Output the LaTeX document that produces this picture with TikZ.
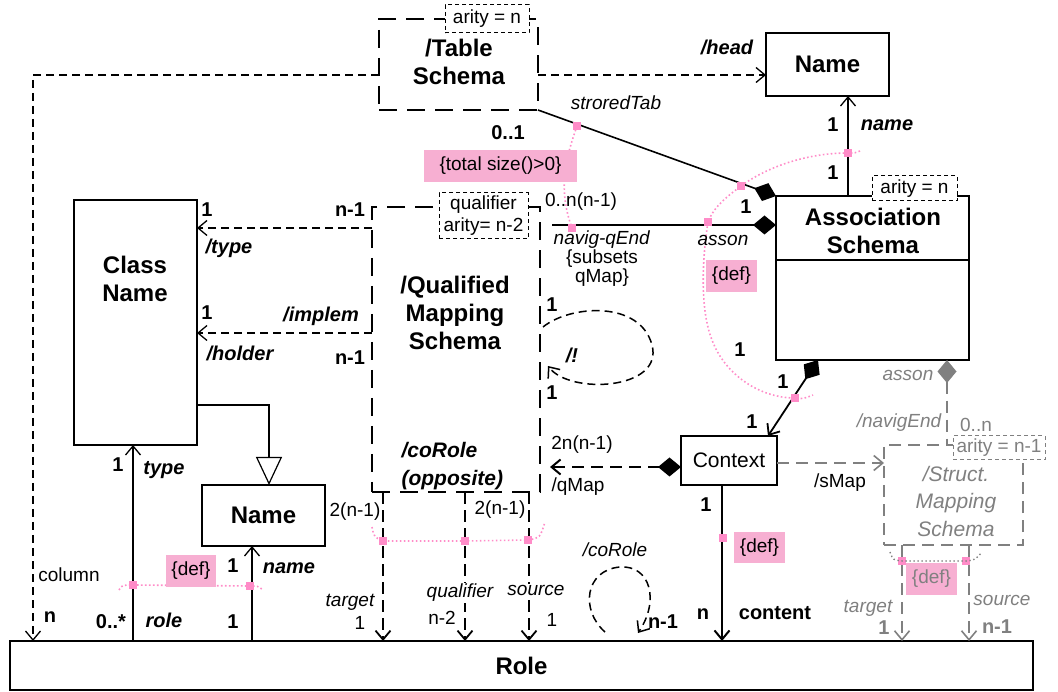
\documentclass[tikz,border=0pt]{standalone}
\usepackage{fontspec}
\setmainfont{Liberation Sans}
\usetikzlibrary{arrows.meta,calc}
\definecolor{pk}{RGB}{255,140,200}
\definecolor{pkbox}{RGB}{247,175,210}
\definecolor{gr}{RGB}{128,128,128}
\begin{document}
\begin{tikzpicture}[x=1pt,y=-1pt,
  box/.style={draw, line width=2.2pt, inner sep=0pt, outer sep=0pt},
  dbox/.style={draw, line width=2.8pt, dash pattern=on 18pt off 10pt, inner sep=0pt, outer sep=0pt},
  gbox/.style={draw=gr, line width=1.6pt, dash pattern=on 12pt off 7pt, inner sep=0pt, outer sep=0pt},
  abox/.style={draw, fill=white, line width=1pt, dash pattern=on 4pt off 3pt, inner sep=1pt, font=\fontsize{19}{22}\selectfont},
  cname/.style={font=\bfseries\fontsize{24}{28}\selectfont, align=center},
  mb/.style={font=\bfseries\fontsize{20}{22}\selectfont, inner sep=1pt},
  rb/.style={font=\bfseries\itshape\fontsize{20}{22}\selectfont, inner sep=1pt},
  tx/.style={font=\fontsize{19}{19}\selectfont, inner sep=1pt},
  ti/.style={font=\itshape\fontsize{19}{19}\selectfont, inner sep=1pt},
  pbox/.style={fill=pkbox, inner sep=0pt, font=\fontsize{19}{20}\selectfont},
  pm/.style={fill=pk, inner sep=0pt, minimum size=8pt},
  pdot/.style={draw=pk, line width=1.6pt, dash pattern=on 1.6pt off 2.4pt},
  gdot/.style={draw=gr, line width=1.4pt, dash pattern=on 1.4pt off 2.6pt},
  conn/.style={line width=1.3pt},
  dconn/.style={line width=1.3pt, dash pattern=on 8pt off 5pt},
  tconn/.style={line width=1.8pt, dash pattern=on 12pt off 6pt},
  gconn/.style={draw=gr, line width=1.6pt, dash pattern=on 12pt off 7pt},
  oa/.style={-{Straight Barb[length=9pt,width=15pt]}},
  dia/.style={{Diamond[length=23pt,width=19pt]}},
]
\useasboundingbox (0,0) rectangle (1058,692);

% ---------- classes ----------
\node[dbox, minimum width=159pt, minimum height=91pt] (ts) at (458.5,64.5) {};
\node[cname] (tst) at (459,62) {/Table\\Schema};
\node[abox, minimum width=84pt, minimum height=28pt] (tsa) at (487,19) {arity = n};

\node[box, cname, minimum width=123pt, minimum height=63pt] (tname) at (827.5,64.5) {Name};

\node[box, minimum width=193pt, minimum height=164pt] (as) at (872.5,278) {};
\draw[line width=2.2pt] (as.west |- 0,260) -- (as.east |- 0,260);
\node[cname] (ast) at (873,231) {Association\\Schema};
\node[abox, minimum width=85pt, minimum height=25pt] (asa) at (914.5,188.5) {arity = n};

\node[box, minimum width=123pt, minimum height=245pt] (cn) at (135.5,322.5) {};
\node[cname] (cnt) at (135,279) {Class\\Name};

\node[dbox, minimum width=168pt, minimum height=285pt] (qms) at (456,349.5) {};
\node[cname] (qmst) at (455,312.5) {/Qualified\\Mapping\\Schema};
\node[abox, align=center, minimum width=89pt, minimum height=46pt, font=\fontsize{19}{22}\selectfont] (qa) at (483.5,216) {qualifier\\arity= n-2};

\node[box, cname, minimum width=123pt, minimum height=61pt] (lnm) at (263.5,515.5) {Name};
\node[box, minimum width=96pt, minimum height=49pt, font=\fontsize{21}{24}\selectfont] (ctx) at (729,460.5) {Context};

\node[gbox, minimum width=139pt, minimum height=100pt] (st) at (953.5,495) {};
\node[font=\itshape\fontsize{21}{27.5}\selectfont, text=gr, align=center] (stt) at (956,501) {/Struct.\\Mapping\\Schema};
\node[abox, draw=gr, text=gr, minimum width=92pt, minimum height=24pt] (sta) at (999,448) {arity = n-1};

\node[box, line width=2pt, cname, minimum width=1023pt, minimum height=49pt] (role) at (521.5,665.5) {Role};

% ---------- connectors ----------
\draw[dconn, oa] (ts.west |- 0,75) -| (role.north -| 33,0);
\draw[dconn, oa] (ts.east |- 0,75) -- (tname.west |- 0,75);
\draw[line width=1.6pt, -{Diamond[length=23pt,width=19pt]}] (ts.south east) -- (as.north west);
\draw[line width=1.6pt, -{Diamond[length=23pt,width=19pt]}] ($(qms.east |- 0,225)+(12,0)$) -- (as.west |- 0,225);
\draw[conn, oa] (as.north -| 848,0) -- (tname.south -| 848,0);
\draw[line width=1.8pt, {Diamond[length=23pt,width=19pt]}-{Straight Barb[length=9pt,width=15pt]}] (as.south -| 818,0) -- (ctx.north -| 768,0);
\draw[line width=2pt, dash pattern=on 12pt off 7pt, {Diamond[length=23pt,width=19pt]}-{Straight Barb[length=9pt,width=15pt]}] (ctx.west |- 0,467) -- ($(qms.east |- 0,467)+(10,0)$);
\draw[gconn, oa] (ctx.east |- 0,463) -- (st.west |- 0,463);
\draw[gconn, {Diamond[length=23pt,width=19pt]}-] (as.south -| 947,0) -- (st.north -| 947,0);
\draw[line width=2pt, oa] (ctx.south -| 722,0) -- (role.north -| 722,0);
\draw[gconn, oa] (st.south -| 902,0) -- (role.north -| 902,0);
\draw[gconn, oa] (st.south -| 969,0) -- (role.north -| 969,0);

\draw[dconn, oa] (qms.west |- 0,228) -- (cn.east |- 0,228);
\draw[dconn, oa] (qms.west |- 0,333) -- (cn.east |- 0,333);
\draw[line width=1.2pt, -{Triangle[open, length=28pt, width=26pt, fill=white]}] (cn.east |- 0,405) -| (lnm.north -| 269,0);
\draw[conn, oa] (role.north -| 133,0) -- (cn.south -| 133,0);
\draw[conn, oa] (role.north -| 252,0) -- (lnm.south -| 252,0);

\draw[tconn, oa] (qms.south -| 383,0) -- (role.north -| 383,0);
\draw[tconn, oa] (qms.south -| 465,0) -- (role.north -| 465,0);
\draw[tconn, oa] (qms.south -| 529,0) -- (role.north -| 529,0);

\draw[dconn, line width=1.5pt, oa] ($(qms.east |- 0,327)+(3,0)$) .. controls (570,305) and (640,300) .. (652,345) .. controls (664,390) and (570,395) .. ($(qms.east |- 0,366)+(8,0)$);
\coordinate (cr1) at ($(role.north -| 605,0)+(0,-9)$);
\coordinate (cr2) at ($(role.north -| 638,0)+(0,-8)$);
\draw[dconn, line width=1.5pt, oa] (cr1) .. controls (580,610) and (585,570) .. (620,567) .. controls (650,565) and (660,600) .. (cr2);

% ---------- pink constraints ----------
\node[pm] (m1) at (848,153) {};
\node[pm] (m2) at (741,186) {};
\node[pm] (m3) at (708,222) {};
\node[pm] (m4) at (795,398) {};
\node[pm] (m5) at (577,126) {};
\node[pm] (m6) at (572,228) {};
\node[pm] (m7) at (133,585) {};
\node[pm] (m8) at (250,586) {};
\node[pm] (m9) at (383,541) {};
\node[pm] (m10) at (465,541) {};
\node[pm] (m11) at (528,540) {};
\node[pm] (m12) at (902,561) {};
\node[pm] (m13) at (966,561) {};
\node[pm] (m14) at (723,538) {};

\draw[pdot] (860,151) .. controls (855,153) .. (m1.center) .. controls (810,153) and (770,165) .. (m2.center) .. controls (728,196) and (714,206) .. (m3.center) .. controls (702,260) and (700,310) .. (712,340) .. controls (725,375) and (760,398) .. (m4.center) .. controls (803,399) .. (813,395);
\draw[pdot] (m5.center) .. controls (565,160) and (558,190) .. (m6.center);
\draw[pdot] (119,590) .. controls (122,585) .. (m7.center) -- (m8.center) .. controls (258,586) .. (263,590);
\draw[pdot] (372,527) .. controls (374,537) .. (m9.center) -- (m10.center) -- (m11.center) .. controls (540,538) .. (545,522);
\draw[gdot] (890,552) .. controls (893,560) .. (m12.center) -- (m13.center) .. controls (975,560) .. (982,552);

\node[pbox, minimum width=153pt, minimum height=32pt] (tsz) at (500.5,166) {\{total size()>0\}};
\node[pbox, minimum width=51pt, minimum height=32pt] (d1) at (731.5,276) {\{def\}};
\node[pbox, minimum width=50pt, minimum height=32pt] (d2) at (191,571) {\{def\}};
\node[pbox, minimum width=51pt, minimum height=31pt] (d3) at (759.5,547.5) {\{def\}};
\node[pbox, minimum width=51pt, minimum height=32pt, text=gr] (d4) at (931.5,579) {\{def\}};

% ---------- labels ----------
\node[rb] (t1) at (727,47) {/head};
\node[ti] (t2) at (616,103) {stroredTab};
\node[mb] (t3) at (508,133) {0..1};
\node[tx] (t4) at (581,202) {0..n(n-1)};
\node[mb] (t5) at (746,207) {1};
\node[mb] (t6) at (833,125) {1};
\node[rb] (t7) at (887,125) {name};
\node[mb] (t8) at (833,173) {1};
\node[tx, align=center] (t9) at (602,259) {\textit{navig-qEnd}\\\{subsets\\qMap\}};
\node[ti] (t10) at (723,240) {asson};

\node[mb] (t11) at (207,210) {1};
\node[rb] (t12) at (229,248) {/type};
\node[mb] (t13) at (350,210) {n-1};
\node[mb] (t14) at (207,313) {1};
\node[rb] (t15) at (321,316) {/implem};
\node[rb] (t16) at (240,353) {/holder};
\node[mb] (t17) at (350,358) {n-1};
\node[mb] (t18) at (118,465) {1};
\node[rb] (t19) at (164,470) {type};
\node[tx] (t20) at (355,512) {2(n-1)};
\node[mb] (t21) at (233,566) {1};
\node[rb] (t22) at (289,568) {name};
\node[tx] (t23) at (69,575) {column};
\node[mb] (t24) at (50,617) {n};
\node[mb] (t25) at (111,622) {0..*};
\node[rb] (t26) at (164,620) {role};
\node[mb] (t27) at (233,622) {1};

\node[font=\bfseries\itshape\fontsize{21}{28}\selectfont, align=left, anchor=west] (t28) at (398,466) {/coRole\\(opposite)};
\node[mb] (t29) at (552,305) {1};
\node[rb] (t30) at (572,355) {/!};
\node[mb] (t31) at (552,393) {1};
\node[tx] (t32) at (582,445) {2n(n-1)};
\node[tx] (t33) at (578,487) {/qMap};
\node[tx] (t34) at (500,510) {2(n-1)};
\node[ti] (t35) at (350,602) {target};
\node[tx] (t36) at (360,623) {1};
\node[ti, fill=white] (t37) at (460,593) {qualifier};
\node[tx] (t38) at (442,618) {n-2};
\node[ti, fill=white] (t39) at (536,590) {source};
\node[tx] (t40) at (552,620) {1};
\node[ti] (t41) at (615,550) {/coRole};
\node[mb] (t42) at (663,622) {n-1};

\node[mb] (t43) at (740,350) {1};
\node[mb] (t44) at (783,382) {1};
\node[mb] (t45) at (752,422) {1};
\node[tx] (t46) at (840,483) {/sMap};
\node[mb] (t47) at (706,505) {1};
\node[mb] (t48) at (703,614) {n};
\node[mb] (t49) at (775,613) {content};

\node[ti, text=gr] (t50) at (908,375) {asson};
\node[ti, text=gr] (t51) at (899,423) {/navigEnd};
\node[tx, text=gr] (t52) at (976,425) {0..n};
\node[ti, text=gr] (t53) at (868,608) {target};
\node[mb, text=gr] (t54) at (884,628) {1};
\node[ti, text=gr] (t55) at (1002,600) {source};
\node[mb, text=gr] (t56) at (997,627) {n-1};
\end{tikzpicture}
\end{document}
